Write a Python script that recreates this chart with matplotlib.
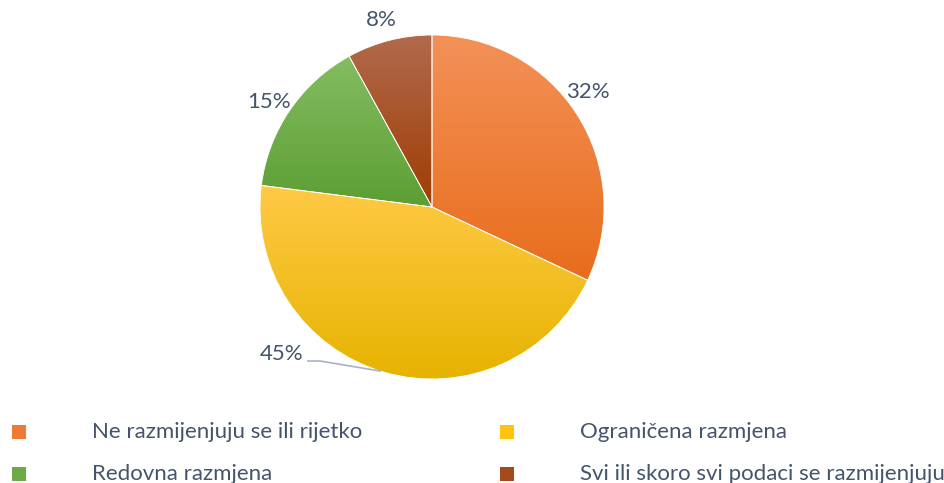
import matplotlib.pyplot as plt
import numpy as np
from matplotlib.colors import to_rgb
from matplotlib.patches import Rectangle

categories = ["Ne razmijenjuju se ili rijetko", "Ograničena razmjena",
              "Redovna razmjena", "Svi ili skoro svi podaci se razmijenjuju"]
values = [32, 45, 15, 8]
labels = ["32%", "45%", "15%", "8%"]
top_colors = ["#F39157", "#FFCA45", "#84BD62", "#B16A4D"]
bottom_colors = ["#E86D1C", "#E6B300", "#5C9E33", "#9E3D02"]
legend_colors = ["#EE7A33", "#FFC20E", "#6BAA44", "#A34A1C"]
label_nudge = [4, 0, 1.5, 0.7]  # degrees, label placement tweak

text_col = "#44546A"
plt.rcParams['font.family'] = ['Lato', 'DejaVu Sans']
fs = 16

W, H = 944, 483
fig = plt.figure(figsize=(W / 100, H / 100), dpi=100)
ax = fig.add_axes([0, 0, 1, 1])

cx, cy, r = 432, H - 207, 172
wedges, _ = ax.pie(values, startangle=90, counterclock=False, center=(cx, cy),
                   radius=r, frame=True,
                   wedgeprops=dict(facecolor='none', edgecolor='white', linewidth=0.6))

# vertical gradient inside each wedge
for w, c1, c2 in zip(wedges, top_colors, bottom_colors):
    ext = w.get_path().get_extents()
    t = np.linspace(0, 1, 256)[:, None]
    a, b = np.array(to_rgb(c1)), np.array(to_rgb(c2))
    img = (a[None, :] * (1 - t) + b[None, :] * t)[:, None, :]
    im = ax.imshow(img, extent=(ext.x0, ext.x1, ext.y0, ext.y1), origin='upper',
                   aspect='auto', interpolation='bilinear', zorder=1)
    im.set_clip_path(w)
    w.set_zorder(2)

ax.set_xlim(0, W)
ax.set_ylim(0, H)
ax.set_aspect('equal')
ax.axis('off')

# percentage labels
cum = np.cumsum([0] + values[:-1])
for i, (v, lab) in enumerate(zip(values, labels)):
    mid = np.deg2rad(90 - (cum[i] + v / 2) * 3.6 + label_nudge[i])
    if lab == "45%":
        ang = np.deg2rad(252.5)
        px, py = cx + r * np.cos(ang), cy + r * np.sin(ang)
        ax.plot([px, 320, 308], [py, H - 361, H - 361], color="#A6B3C6", lw=1.2, zorder=3)
        ax.text(303, H - 354, lab, ha='right', va='center', fontsize=fs, color=text_col)
    else:
        d = r * 1.125
        ax.text(cx + d * np.cos(mid), cy + d * np.sin(mid), lab, ha='center', va='center',
                fontsize=fs, color=text_col)

# legend
pos = [(12, 92, 432), (500, 580, 432), (12, 92, 474), (500, 580, 474)]
for (mx, tx, y), cat, col in zip(pos, categories, legend_colors):
    ax.add_patch(Rectangle((mx, H - y - 7), 14, 14, facecolor=col, edgecolor='none'))
    ax.text(tx, H - y, cat, ha='left', va='center', fontsize=fs, color=text_col)

fig.savefig("out.png", dpi=100)
